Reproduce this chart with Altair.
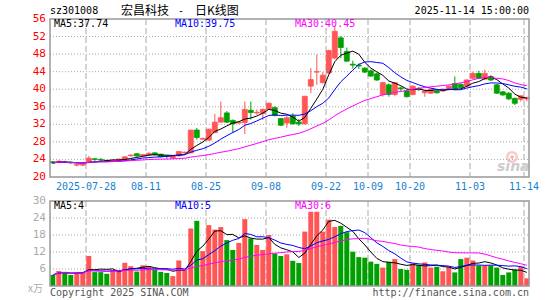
import altair as alt
import pandas as pd
import numpy as np

dates = ["07-18","07-21","07-22","07-23","07-24","07-25","07-28","07-29","07-30","07-31",
         "08-01","08-04","08-05","08-06","08-07","08-08","08-11","08-12","08-13","08-14",
         "08-15","08-18","08-19","08-20","08-21","08-22","08-25","08-26","08-27","08-28",
         "08-29","09-01","09-02","09-03","09-04","09-05","09-08","09-09","09-10","09-11",
         "09-12","09-15","09-16","09-17","09-18","09-19","09-22","09-23","09-24","09-25",
         "09-26","09-29","09-30","10-09","10-10","10-13","10-14","10-15","10-16","10-17",
         "10-20","10-21","10-22","10-23","10-24","10-27","10-28","10-29","10-30","10-31",
         "11-03","11-04","11-05","11-06","11-07","11-10","11-11","11-12","11-13","11-14"]

opens = [23.5,23.3,23.5,23.4,22.7,22.7,23.3,24.15,24.0,23.8,
         23.6,23.7,24.0,24.85,25.3,24.8,25.0,25.5,25.2,24.8,
         24.3,24.8,25.5,25.5,30.7,28.6,28.4,30.1,32.5,34.6,
         32.9,32.3,32.4,35.2,34.6,34.5,35.4,35.8,33.3,32.3,
         33.9,32.5,32.1,40.7,43.9,41.5,43.7,47.1,51.7,48.6,
         45.7,45.5,44.8,44.2,43.5,38.8,41.0,38.8,40.3,39.6,
         38.8,40.1,39.2,39.1,39.6,39.6,40.0,41.3,41.1,40.7,
         42.5,43.6,42.3,42.9,41.0,39.4,39.1,37.9,37.7,37.8]
highs = [23.6,23.8,23.7,23.5,23.0,23.0,24.8,24.3,24.3,23.9,
         23.9,24.2,24.7,25.2,25.4,25.3,25.6,25.6,25.3,25.0,
         24.9,25.9,25.8,30.7,31.2,29.0,31.0,34.4,37.2,35.0,
         33.1,32.7,37.2,37.2,35.4,35.6,37.0,36.1,33.4,34.0,
         34.5,33.2,38.4,44.8,47.9,43.9,49.0,54.5,52.1,49.5,
         46.5,45.9,45.0,44.5,43.8,41.7,41.3,41.6,40.6,39.9,
         40.9,40.5,39.8,40.2,39.8,40.2,40.9,42.9,41.4,42.3,
         44.0,44.2,44.5,43.2,41.2,39.6,39.3,38.1,38.6,38.3]
lows = [23.1,23.2,23.2,23.0,22.4,22.5,23.2,23.6,23.6,23.5,
        23.5,23.6,23.9,24.6,24.6,24.6,24.9,24.9,24.5,24.2,
        24.2,24.7,25.2,25.4,28.5,28.5,28.3,30.0,32.4,32.3,
        30.0,32.1,29.8,33.1,34.2,33.0,35.3,33.8,31.6,31.2,
        32.0,31.6,32.0,39.1,41.0,41.3,43.5,46.8,47.1,46.2,
        44.7,44.6,43.7,42.8,41.9,38.3,38.3,38.4,39.6,38.1,
        38.6,39.6,38.3,38.9,39.0,39.4,39.9,39.9,40.2,40.5,
        42.3,42.3,42.1,41.9,38.9,38.5,37.5,36.4,37.2,37.3]
closes = [23.2,23.6,23.3,23.2,22.85,22.9,24.3,24.0,23.85,23.6,
          23.8,24.1,24.6,25.0,24.8,25.1,25.4,25.1,24.6,24.65,
          24.8,25.8,25.65,30.7,29.0,28.8,30.9,32.5,33.5,32.5,
          32.1,32.5,35.4,34.7,34.75,35.4,36.8,34.0,31.8,33.5,
          32.1,32.1,38.4,42.2,44.0,43.2,48.8,53.2,49.5,46.4,
          45.5,45.3,43.9,43.0,42.1,41.5,38.8,41.5,40.1,38.3,
          40.7,39.95,39.6,40.0,39.2,40.0,40.7,40.1,40.4,42.1,
          43.6,42.5,43.6,42.1,39.1,38.7,37.8,36.8,38.5,38.1]
volumes = [3.9,5.3,5.0,3.9,4.7,4.7,10.6,4.9,4.9,4.3,
           5.5,5.5,8.2,7.0,5.1,7.3,7.0,5.9,5.0,4.6,
           3.5,9.0,5.7,20.3,23.0,12.3,21.5,19.9,20.8,16.2,
           12.7,15.2,23.6,16.8,14.5,12.7,18.0,11.5,10.6,11.2,
           8.9,8.1,19.2,26.2,26.2,19.2,23.4,20.8,21.2,19.0,
           12.1,10.2,10.0,8.6,7.8,6.5,8.6,9.5,6.0,5.7,
           8.0,7.4,8.3,6.5,6.8,5.2,6.7,4.8,9.5,10.0,
           9.0,7.2,7.2,7.2,6.5,3.9,4.8,5.8,6.8,2.7]

price_ticks = [20, 24, 28, 32, 36, 40, 44, 48, 52, 56]
vol_ticks = [6, 12, 18, 24, 30]
tick_dates = ["07-28", "08-11", "08-25", "09-08", "09-22", "10-09", "10-20", "11-03", "11-14"]
tick_labels = ["2025-07-28", "08-11", "08-25", "09-08", "09-22", "10-09", "10-20", "11-03", "11-14"]

RED = "#ff5555"
GREEN = "#00a000"
MONO = "DejaVu Sans Mono"
CJK = "Noto Sans CJK SC"
FS = 10

n = len(dates)
df = pd.DataFrame({"d": dates, "o": opens, "h": highs, "l": lows, "c": closes, "v": volumes})
df["i"] = np.arange(n)
df["bx0"] = df["i"] + 0.05
df["bx1"] = df["i"] + 0.88
df["wx"] = df["i"] + 0.47
df["dir"] = np.where(df["c"] >= df["o"], "up", "down")
df["zero"] = 0

xs = alt.Scale(domain=[0, 80], range=[50, 530], nice=False, zero=False)
ys = alt.Scale(domain=[20, 56], range=[177, 19], nice=False, zero=False)
vs = alt.Scale(domain=[0, 30], range=[286, 201], nice=False, zero=False)
cs = alt.Scale(domain=["up", "down"], range=[RED, GREEN])

base = alt.Chart(df)
one = pd.DataFrame({"a": [0]})

tick_idx = [dates.index(d) for d in tick_dates]
tdf = pd.DataFrame({"i": tick_idx, "lab": tick_labels})
pdf = pd.DataFrame({"t": price_ticks})
vdf = pd.DataFrame({"t": vol_ticks})

def X(f):
    return alt.X(f, type="quantitative", scale=xs, axis=None)

def Yp(f):
    return alt.Y(f, type="quantitative", scale=ys, axis=None)

def Yv(f):
    return alt.Y(f, type="quantitative", scale=vs, axis=None)

layers = []

layers.append(alt.Chart(pdf[(pdf.t > 20) & (pdf.t < 56)]).mark_rule(color="#aaaaaa", strokeDash=[1, 2], strokeWidth=1)
              .encode(y=Yp("t"), x=alt.value(50), x2=alt.value(529)))
layers.append(alt.Chart(vdf[vdf.t < 30]).mark_rule(color="#aaaaaa", strokeDash=[1, 2], strokeWidth=1)
              .encode(y=Yv("t"), x=alt.value(50), x2=alt.value(529)))
layers.append(alt.Chart(tdf).mark_rule(color="#aaaaaa", strokeDash=[6, 3], strokeWidth=1)
              .encode(x=X("i"), y=alt.value(19), y2=alt.value(177)))
layers.append(alt.Chart(tdf).mark_rule(color="#aaaaaa", strokeDash=[6, 3], strokeWidth=1)
              .encode(x=X("i"), y=alt.value(201), y2=alt.value(286)))

# sina watermark (behind data)
layers.append(alt.Chart(one).mark_point(shape="circle", filled=False, color="#f4b4b4", strokeWidth=2.5, size=90)
              .encode(x=alt.value(512), y=alt.value(157)))
layers.append(alt.Chart(one).mark_point(shape="circle", filled=True, color="#f4b4b4", size=14, opacity=1)
              .encode(x=alt.value(512), y=alt.value(157)))
layers.append(alt.Chart(one).mark_text(align="left", baseline="middle", font="DejaVu Sans", fontSize=14,
                                       fontWeight="bold", fontStyle="italic", color="#cccccc")
              .encode(x=alt.value(497), y=alt.value(167), text=alt.value("sina")))

layers.append(base.mark_rule(strokeWidth=1).encode(
    x=X("wx"), y=Yp("l"), y2="h:Q",
    color=alt.Color("dir:N", scale=cs, legend=None)))
layers.append(base.mark_rect(strokeWidth=0.8).encode(
    x=X("bx0"), x2="bx1:Q", y=Yp("o"), y2="c:Q",
    color=alt.Color("dir:N", scale=cs, legend=None),
    stroke=alt.Stroke("dir:N", scale=cs, legend=None)))

for win, col in [(5, "black"), (10, "#0000ff"), (30, "#ff00ff")]:
    layers.append(base.transform_window(ma="mean(c)", frame=[-(win - 1), 0], sort=[alt.SortField("i")])
                  .mark_line(color=col, strokeWidth=1)
                  .encode(x=X("wx"), y=Yp("ma:Q")))

layers.append(base.mark_rect().encode(
    x=X("bx0"), x2="bx1:Q", y=Yv("v"), y2="zero:Q",
    color=alt.Color("dir:N", scale=cs, legend=None)))
for win, col in [(5, "black"), (10, "#0000ff"), (30, "#ff00ff")]:
    layers.append(base.transform_window(ma="mean(v)", frame=[-(win - 1), 0], sort=[alt.SortField("i")])
                  .mark_line(color=col, strokeWidth=1)
                  .encode(x=X("wx"), y=Yv("ma:Q")))

for (y0, y1) in [(19, 177), (201, 286)]:
    layers.append(alt.Chart(one).mark_rect(fill="transparent", stroke="#999999", strokeWidth=1.5)
                  .encode(x=alt.value(50), x2=alt.value(529), y=alt.value(y0), y2=alt.value(y1)))

layers.append(alt.Chart(pdf).mark_text(align="right", baseline="middle", font=MONO, fontSize=11, color="#ff0000")
              .encode(y=Yp("t"), x=alt.value(46), text="t:Q"))
layers.append(alt.Chart(vdf).mark_text(align="right", baseline="middle", font=MONO, fontSize=11, color="#aaaaaa")
              .encode(y=Yv("t"), x=alt.value(46), text="t:Q"))
layers.append(alt.Chart(tdf).mark_text(align="center", baseline="middle", font=MONO, fontSize=FS, color="#1a7fd0")
              .encode(x=X("i"), y=alt.value(187), text="lab:N"))

def txt(s, x, y, color="black", align="left", font=MONO, size=FS, **kw):
    return alt.Chart(one).mark_text(align=align, baseline="middle", font=font, fontSize=size, color=color, **kw).encode(
        x=alt.value(x), y=alt.value(y), text=alt.value(s))

layers += [
    txt("sz301008", 50, 11),
    txt("宏昌科技", 121, 11, font=CJK, size=12),
    txt("-", 178, 11),
    txt("日K线图", 195, 11, font=CJK, size=12),
    txt("2025-11-14 15:00:00", 529, 11, align="right"),
    txt("MA5:37.74", 54, 24),
    txt("MA10:39.75", 175, 24, color="#0000ff"),
    txt("MA30:40.45", 295, 24, color="#ff00ff"),
    txt("MA5:4", 54, 206),
    txt("MA10:5", 175, 206, color="#0000ff"),
    txt("MA30:6", 295, 206, color="#ff00ff"),
    txt("x万", 28, 289, color="#aaaaaa", font=CJK, size=10),
    txt("Copyright 2025 SINA.COM", 50, 293, color="#555555"),
    txt("http://finance.sina.com.cn", 529, 293, color="#555555", align="right"),
]

chart = alt.layer(*layers).resolve_scale(y="independent").properties(
    width=545, height=300, padding=0, autosize=alt.AutoSizeParams(type="none"), background="white"
).configure_view(strokeWidth=0)

chart.save("out.html", embed_options={"renderer": "svg", "actions": False})
